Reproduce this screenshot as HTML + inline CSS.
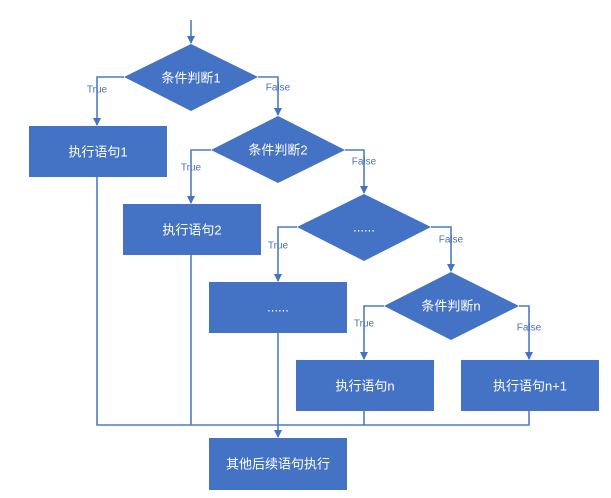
<!DOCTYPE html>
<html><head><meta charset="utf-8"><style>
html,body{margin:0;padding:0;background:#fff;}
svg{display:block;}
.t{font-family:"Liberation Sans","Noto Sans CJK SC",sans-serif;font-size:13px;fill:#fff;text-anchor:middle;dominant-baseline:central;}
.l{font-family:"Liberation Sans",sans-serif;font-size:10px;fill:#4a6fb5;text-anchor:middle;dominant-baseline:central;}
</style></head><body>
<svg width="611" height="498" viewBox="0 0 611 498">
<defs><marker id="a" markerWidth="8" markerHeight="8" refX="7" refY="4" orient="auto" markerUnits="userSpaceOnUse"><path d="M0,0 L8,4 L0,8 z" fill="#4472c4"/></marker></defs>
<g stroke="#4f7bc8" stroke-width="1.6" fill="none">
<path d="M191,20 V43" marker-end="url(#a)"/>
<path d="M124,77 H97 V125" marker-end="url(#a)"/>
<path d="M258,77 H278 V115" marker-end="url(#a)"/>
<path d="M211,150 H191 V203" marker-end="url(#a)"/>
<path d="M345,150 H364 V193" marker-end="url(#a)"/>
<path d="M297,227 H278 V281" marker-end="url(#a)"/>
<path d="M431,227 H451 V271" marker-end="url(#a)"/>
<path d="M384,306 H364 V359" marker-end="url(#a)"/>
<path d="M519,306 H529 V359" marker-end="url(#a)"/>
<path d="M97,177 V425 H529 V411"/>
<path d="M191,255 V425"/>
<path d="M364,411 V425"/>
<path d="M278,333 V437" marker-end="url(#a)"/>
</g>
<g fill="#4472c4">
<polygon points="191,44 258,77 191,111 124,77"/>
<polygon points="278,116 345,150 278,183 211,150"/>
<polygon points="364,194 431,227 364,261 297,227"/>
<polygon points="451,272 519,306 451,340 384,306"/>
<rect x="29" y="126" width="138" height="51"/>
<rect x="123" y="204" width="138" height="51"/>
<rect x="209" y="282" width="138" height="51"/>
<rect x="296" y="360" width="138" height="51"/>
<rect x="461" y="360" width="138" height="51"/>
<rect x="209" y="438" width="138" height="52"/>
</g>
<text class="t" x="191" y="78">条件判断1</text>
<text class="t" x="278" y="150">条件判断2</text>
<text class="t" x="364" y="227">......</text>
<text class="t" x="451" y="306">条件判断n</text>
<text class="t" x="98" y="152">执行语句1</text>
<text class="t" x="192" y="230">执行语句2</text>
<text class="t" x="278" y="307">......</text>
<text class="t" x="365" y="386">执行语句n</text>
<text class="t" x="530" y="386">执行语句n+1</text>
<text class="t" x="278" y="464">其他后续语句执行</text>
<text class="l" x="97" y="90">True</text>
<text class="l" x="278" y="88">False</text>
<text class="l" x="191" y="168">True</text>
<text class="l" x="364" y="162">False</text>
<text class="l" x="278" y="246">True</text>
<text class="l" x="451" y="240">False</text>
<text class="l" x="364" y="324">True</text>
<text class="l" x="529" y="328">False</text>
</svg>
</body></html>
